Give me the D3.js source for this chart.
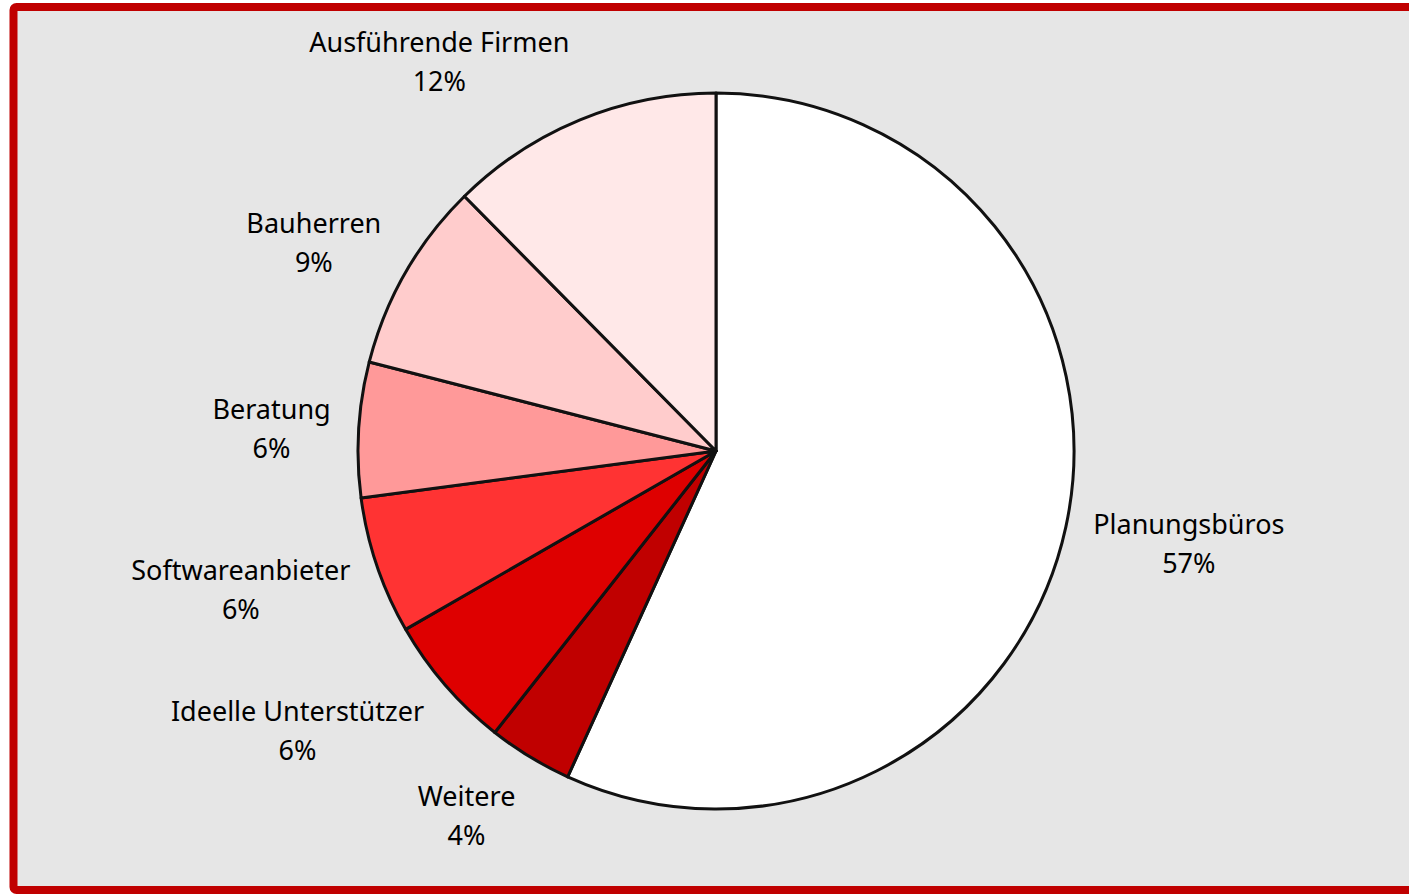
<!DOCTYPE html>
<html>
<head>
<meta charset="utf-8">
<title>Pie chart</title>
<style>
  html, body { margin: 0; padding: 0; background: #ffffff; }
  svg { display: block; }
</style>
</head>
<body>
<script src="https://d3js.org/d3.v7.min.js"></script>
<script>
// slice data, clockwise from 12 o'clock
const categories = ["Planungsbüros", "Weitere", "Ideelle Unterstützer", "Softwareanbieter", "Beratung", "Bauherren", "Ausführende Firmen"];
const shares = [56.8, 3.8, 6.1, 6.2, 6.1, 8.6, 12.4];
const sliceColors = ["#ffffff", "#c00000", "#de0000", "#ff3333", "#ff9999", "#ffcccc", "#ffe8e8"];

const w = 1409, h = 894;
const cx = 716, cy = 451, r = 358;
const labelR = 386;

const svg = d3.select("body").append("svg")
  .attr("width", w)
  .attr("height", h);

// frame
svg.append("rect")
  .attr("x", 13.5).attr("y", 7)
  .attr("width", w + 20).attr("height", 883)
  .attr("rx", 3)
  .attr("fill", "#e6e6e6")
  .attr("stroke", "#c00000")
  .attr("stroke-width", 8);

const data = categories.map((c, i) => ({ name: c, value: shares[i], color: sliceColors[i] }));

const pie = d3.pie().value(d => d.value).sort(null);
const arcs = pie(data);
const arc = d3.arc().innerRadius(0).outerRadius(r);

const g = svg.append("g").attr("transform", `translate(${cx},${cy})`);

g.selectAll("path")
  .data(arcs)
  .enter()
  .append("path")
  .attr("d", arc)
  .attr("fill", d => d.data.color)
  .attr("stroke", "#111")
  .attr("stroke-width", 3)
  .attr("stroke-linejoin", "round");

// labels outside end, excel-ish placement
const lineH = 39;
const labels = g.selectAll("text.lbl")
  .data(arcs)
  .enter()
  .append("text")
  .attr("class", "lbl")
  .attr("text-anchor", "middle")
  .style("font-family", "'Noto Sans', 'Open Sans', sans-serif")
  .style("font-size", "27px")
  .attr("fill", "#000");

labels.append("tspan")
  .attr("x", 0).attr("dy", 0)
  .text(d => d.data.name);
labels.append("tspan")
  .attr("x", 0).attr("dy", lineH)
  .text(d => Math.round(d.data.value) + "%");

labels.each(function(d) {
  const box = this.getBBox();
  const mid = (d.startAngle + d.endAngle) / 2;
  const sx = Math.sin(mid), sy = -Math.cos(mid);
  const px = sx * labelR, py = sy * labelR;
  const lx = px + Math.sign(sx) * box.width / 2;
  const ly = py + sy * box.height / 2 + 2;
  // shift so the box centre lands on (lx, ly)
  const bcy = box.y + box.height / 2;
  d3.select(this).attr("transform", `translate(${lx},${ly - bcy})`);
});
</script>
</body>
</html>
